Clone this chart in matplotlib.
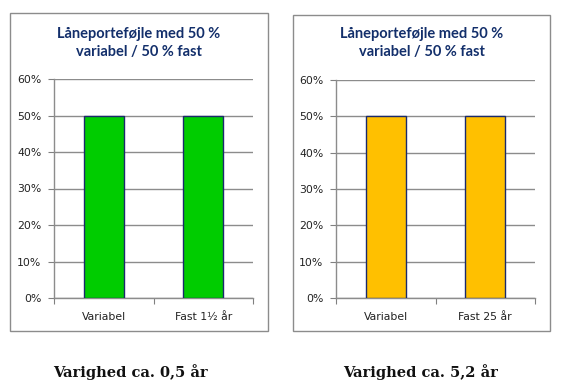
import matplotlib
matplotlib.use("Agg")
import matplotlib.pyplot as plt
from matplotlib.patches import Rectangle
import numpy as np

W, H = 562, 391
categories_left = ["Variabel", "Fast 1½ år"]
categories_right = ["Variabel", "Fast 25 år"]
values_left = [0.50, 0.50]
values_right = [0.50, 0.50]
title = "Låneporteføjle med 50 %\nvariabel / 50 % fast"
captions = ["Varighed ca. 0,5 år", "Varighed ca. 5,2 år"]
yticks = [0, 0.1, 0.2, 0.3, 0.4, 0.5, 0.6]
ytick_labels = ["0%", "10%", "20%", "30%", "40%", "50%", "60%"]

fig = plt.figure(figsize=(W / 100, H / 100), dpi=100)
fig.patch.set_facecolor("white")

def fx(px):
    return px / W

def fy(py):
    return 1 - py / H

def panel(box, ax_rect, cats, vals, color, caption, cap_x):
    bx0, by0, bx1, by1 = box
    fig.patches.append(Rectangle((fx(bx0), fy(by1)), fx(bx1 - bx0), (by1 - by0) / H,
                                 transform=fig.transFigure, fill=False,
                                 edgecolor="#8c8c8c", linewidth=1.0))
    x0, y0, x1, y1 = ax_rect
    ax = fig.add_axes([fx(x0), fy(y1), fx(x1 - x0), (y1 - y0) / H])
    x = np.arange(len(cats))
    ax.bar(x, vals, width=0.4, color=color, edgecolor="#1a2a6c", linewidth=1.0, zorder=3)
    ax.set_xlim(-0.5, len(cats) - 0.5)
    ax.set_ylim(0, 0.6)
    ax.set_yticks(yticks)
    ax.set_yticklabels(ytick_labels)
    ax.set_xticks([-0.5, 0.5, 1.5])
    ax.set_xticklabels([])
    ax.set_xticks(x, minor=True)
    ax.set_xticklabels(cats, minor=True)
    ax.tick_params(axis="x", which="minor", length=0, pad=10, labelsize=7.8, labelcolor="#222222")
    ax.tick_params(axis="x", which="major", length=4, color="#808080", direction="out")
    ax.tick_params(axis="y", length=4, color="#808080", labelsize=7.8, labelcolor="#222222", pad=5)
    ax.grid(axis="y", color="#8c8c8c", linewidth=1.0, zorder=0)
    for s in ["top", "right"]:
        ax.spines[s].set_visible(False)
    for s in ["left", "bottom"]:
        ax.spines[s].set_color("#8c8c8c")
        ax.spines[s].set_linewidth(1.0)
    ax.set_facecolor("white")
    cx = (bx0 + bx1) / 2
    fig.text(fx(cx), fy(43), title, ha="center", va="center", fontsize=10.5,
             fontweight="bold", color="#132f6b", family="Lato", linespacing=1.35)
    fig.text(fx(cap_x), fy(372), caption, ha="center", va="center", fontsize=10.5,
             fontweight="bold", color="#111111", family="DejaVu Serif")

panel((10, 13, 268, 331), (54, 79, 253, 298), categories_left, values_left, "#00cc00", captions[0], 130)
panel((293, 15, 550, 331), (336, 80, 535, 298), categories_right, values_right, "#ffc000", captions[1], 421)

fig.savefig("out.png", dpi=100)
